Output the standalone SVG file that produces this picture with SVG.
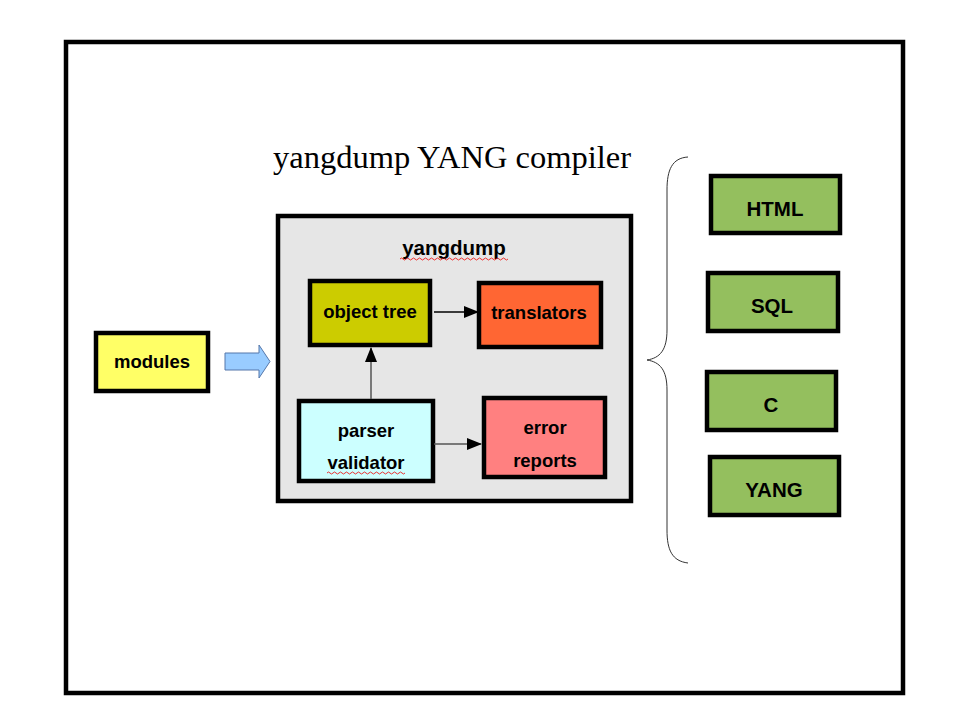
<svg xmlns="http://www.w3.org/2000/svg" width="960" height="720" viewBox="0 0 960 720">
<defs>
<style>
.box{stroke:#000;stroke-width:4.5}
.lbl{font-family:"Liberation Sans",Arial,sans-serif;font-weight:bold;font-size:18.5px;fill:#000;text-anchor:middle}
.big{font-size:20.5px}
.conn{fill:none;stroke-width:1.5}
.wavy{fill:none;stroke:#e00;stroke-width:0.8}
</style>
<marker id="ah" markerWidth="15" markerHeight="12" refX="14" refY="6" orient="auto" markerUnits="userSpaceOnUse">
<path d="M0,0 L15,6 L0,12 Z" fill="#000"/>
</marker>
</defs>
<rect x="0" y="0" width="960" height="720" fill="#fff"/>
<rect x="66" y="42" width="837" height="651" fill="#fff" stroke="#000" stroke-width="4.5"/>
<text x="452" y="168" font-family="Liberation Serif,'Times New Roman',serif" font-size="32.5" text-anchor="middle" fill="#000">yangdump YANG compiler</text>

<g id="yangdump">
<rect class="box" x="278" y="216" width="353" height="285" fill="#e6e6e6"/>
<text class="lbl big" x="454" y="255">yangdump</text>
<path class="wavy" d="M400,259 q1.5,-2 3,0 t3,0 t3,0 t3,0 t3,0 t3,0 t3,0 t3,0 t3,0 t3,0 t3,0 t3,0 t3,0 t3,0 t3,0 t3,0 t3,0 t3,0 t3,0 t3,0 t3,0 t3,0 t3,0 t3,0 t3,0 t3,0 t3,0 t3,0 t3,0 t3,0 t3,0 t3,0 t3,0 t3,0 t3,0 t3,0"/>
</g>

<g id="object-tree">
<rect class="box" x="310" y="281" width="120" height="64" fill="#cccc00"/>
<text class="lbl" x="370" y="318">object tree</text>
</g>
<g id="translators">
<rect class="box" x="479" y="283" width="122" height="64" fill="#ff6633"/>
<text class="lbl" x="539" y="319">translators</text>
</g>
<g id="parser-validator">
<rect class="box" x="299" y="401" width="134" height="80" fill="#ccffff"/>
<text class="lbl" x="366" y="437">parser</text>
<text class="lbl" x="366" y="469">validator</text>
<path class="wavy" d="M327,473 q1.5,-2 3,0 t3,0 t3,0 t3,0 t3,0 t3,0 t3,0 t3,0 t3,0 t3,0 t3,0 t3,0 t3,0 t3,0 t3,0 t3,0 t3,0 t3,0 t3,0 t3,0 t3,0 t3,0 t3,0 t3,0 t3,0 t3,0"/>
</g>
<g id="error-reports">
<rect class="box" x="484" y="398" width="121" height="79" fill="#ff8080"/>
<text class="lbl" x="545" y="434">error</text>
<text class="lbl" x="545" y="467">reports</text>
</g>

<g id="modules">
<rect class="box" x="96" y="333" width="112" height="58" fill="#ffff66"/>
<text class="lbl" x="152" y="368">modules</text>
</g>

<g id="html">
<rect class="box" x="711" y="176" width="129" height="57" fill="#94bf5e"/>
<text class="lbl big" x="775" y="216">HTML</text>
</g>
<g id="sql">
<rect class="box" x="708" y="273" width="130" height="58" fill="#94bf5e"/>
<text class="lbl big" x="772" y="313">SQL</text>
</g>
<g id="c">
<rect class="box" x="707" y="372" width="129" height="58" fill="#94bf5e"/>
<text class="lbl big" x="771" y="412">C</text>
</g>
<g id="yang">
<rect class="box" x="710" y="457" width="129" height="58" fill="#94bf5e"/>
<text class="lbl big" x="774" y="497">YANG</text>
</g>

<g id="connectors">
<path class="conn" stroke="#000" d="M434,312 L478,312" marker-end="url(#ah)"/>
<path class="conn" stroke="#555" d="M371,399 L371,348" marker-end="url(#ah)"/>
<path class="conn" stroke="#555" d="M434,444 L481,444" marker-end="url(#ah)"/>
<path d="M225,353 L259,353 L259,345 L270,361.5 L259,378 L259,370 L225,370 Z" fill="#99ccff" stroke="#5577aa" stroke-width="1"/>
<path d="M688,157 C672,158 667,170 667,190 L667,330 C667,350 660,358 647,360 C660,362 667,370 667,390 L667,530 C667,550 672,561 688,563" fill="none" stroke="#333" stroke-width="1"/>
</g>
</svg>
